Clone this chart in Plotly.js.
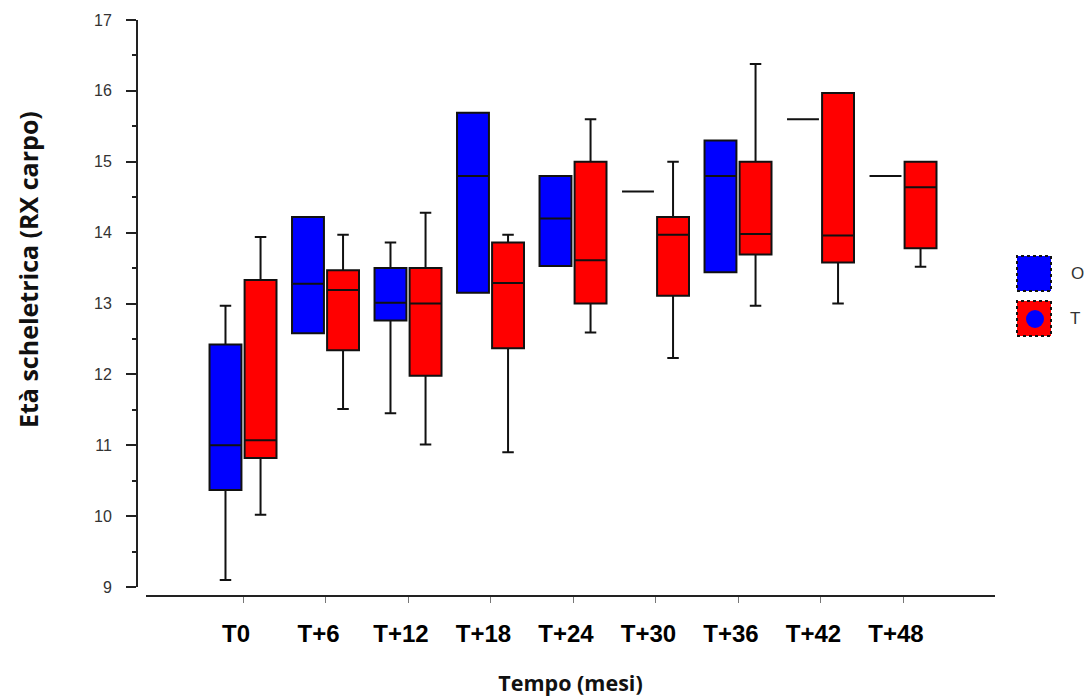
<!DOCTYPE html>
<html>
<head>
<meta charset="utf-8">
<script src="https://cdn.plot.ly/plotly-3.0.1.min.js"></script>
<style>
  html, body { margin: 0; padding: 0; background: #fff; }
  #chart { width: 1085px; height: 697px; }
</style>
</head>
<body>
<div id="chart"></div>
<script>
// Time points (months)
const categories = ['T0', 'T+6', 'T+12', 'T+18', 'T+24', 'T+30', 'T+36', 'T+42', 'T+48'];

// Group O (blue) – box statistics
const oLower  = [9.10, 12.58, 11.45, 13.15, 13.53, 14.58, 13.44, 15.60, 14.80];
const oQ1     = [10.37, 12.58, 12.76, 13.15, 13.53, 14.58, 13.44, 15.60, 14.80];
const oMedian = [11.00, 13.28, 13.01, 14.80, 14.20, 14.58, 14.80, 15.60, 14.80];
const oQ3     = [12.42, 14.22, 13.50, 15.69, 14.80, 14.58, 15.30, 15.60, 14.80];
const oUpper  = [12.97, 14.22, 13.86, 15.69, 14.80, 14.58, 15.30, 15.60, 14.80];

// Group T (red) – box statistics
const tLower  = [10.02, 11.51, 11.01, 10.90, 12.59, 12.23, 12.97, 13.00, 13.52];
const tQ1     = [10.82, 12.34, 11.98, 12.37, 13.00, 13.11, 13.69, 13.58, 13.78];
const tMedian = [11.07, 13.19, 13.00, 13.29, 13.61, 13.97, 13.98, 13.96, 14.64];
const tQ3     = [13.33, 13.47, 13.50, 13.86, 15.00, 14.22, 15.00, 15.97, 15.00];
const tUpper  = [13.94, 13.97, 14.28, 13.97, 15.60, 15.00, 16.38, 15.97, 15.00];

const groupNames = ['O', 'T'];

// Page geometry
const W = 1085, H = 697;
const M = { l: 137, r: 90, t: 20, b: 101 };
const PW = W - M.l - M.r, PH = H - M.t - M.b;
const px = v => (v - M.l) / PW;          // pixel x -> paper x
const py = v => (H - M.b - v) / PH;      // pixel y -> paper y

const boxLine = { color: '#111', width: 2 };

const traces = [
  {
    type: 'box', name: groupNames[0], x: categories,
    lowerfence: oLower, q1: oQ1, median: oMedian, q3: oQ3, upperfence: oUpper,
    fillcolor: 'rgb(0,0,255)', line: boxLine, whiskerwidth: 0.36,
    boxpoints: false, hoverinfo: 'skip'
  },
  {
    type: 'box', name: groupNames[1], x: categories,
    lowerfence: tLower, q1: tQ1, median: tMedian, q3: tQ3, upperfence: tUpper,
    fillcolor: 'rgb(255,0,0)', line: boxLine, whiskerwidth: 0.36,
    boxpoints: false, hoverinfo: 'skip'
  }
];

// Legend keys drawn by hand (square swatches with dotted outlines)
const keyBorder = { color: '#111', width: 2, dash: 'dot' };
const shapes = [
  { type: 'rect', xref: 'paper', yref: 'paper',
    x0: px(1017), x1: px(1051), y0: py(291), y1: py(256),
    fillcolor: 'rgb(0,0,255)', line: keyBorder },
  { type: 'rect', xref: 'paper', yref: 'paper',
    x0: px(1017), x1: px(1051), y0: py(336), y1: py(301),
    fillcolor: 'rgb(255,0,0)', line: keyBorder },
  { type: 'circle', xref: 'paper', yref: 'paper',
    x0: px(1026), x1: px(1044), y0: py(328), y1: py(310),
    fillcolor: 'rgb(0,0,255)', line: { width: 0 } }
];

const annotations = [
  { text: 'Età scheletrica (RX carpo)', textangle: -90,
    xref: 'paper', yref: 'paper', x: px(28), y: py(270),
    xanchor: 'center', yanchor: 'middle', showarrow: false,
    font: { family: 'Open Sans, sans-serif', size: 25, color: '#111', weight: 700 } },
  { text: groupNames[0], xref: 'paper', yref: 'paper', x: px(1069), y: py(273),
    xanchor: 'left', yanchor: 'middle', showarrow: false,
    font: { family: 'Liberation Sans, Arial, sans-serif', size: 17, color: '#333' } },
  { text: groupNames[1], xref: 'paper', yref: 'paper', x: px(1068), y: py(318),
    xanchor: 'left', yanchor: 'middle', showarrow: false,
    font: { family: 'Liberation Sans, Arial, sans-serif', size: 17, color: '#333' } }
];

const layout = {
  width: W, height: H,
  margin: M,
  paper_bgcolor: '#fff', plot_bgcolor: '#fff',
  showlegend: false,
  boxmode: 'group', boxgap: 0.15, boxgroupgap: 0.09,
  xaxis: {
    type: 'category',
    domain: [9 / PW, 1],
    anchor: 'free', position: 0,
    range: [-1.176, 9.115],
    showgrid: false, zeroline: false,
    showline: true, linecolor: '#222', linewidth: 2,
    ticks: 'outside', ticklen: 6, tickcolor: '#777', tickwidth: 1,
    ticklabelstandoff: 10, ticklabelshift: -7,
    tickfont: { family: 'Liberation Sans, Arial, sans-serif', size: 24, color: '#000', weight: 700 },
    title: { text: 'Tempo (mesi)', standoff: 34,
             font: { family: 'Open Sans, sans-serif', size: 21.5, color: '#111', weight: 700 } }
  },
  yaxis: {
    domain: [9 / PH, 1],
    anchor: 'free', position: 0,
    range: [9, 17],
    tickvals: [9, 10, 11, 12, 13, 14, 15, 16, 17],
    showgrid: false, zeroline: false,
    showline: true, linecolor: '#222', linewidth: 2,
    ticks: 'outside', ticklen: 10, tickcolor: '#222', tickwidth: 2,
    ticklabelstandoff: 11,
    tickfont: { family: 'Liberation Sans, Arial, sans-serif', size: 16, color: '#333' },
    minor: { dtick: 0.5, tick0: 9, ticks: 'outside', ticklen: 4, tickcolor: '#222', tickwidth: 2, showgrid: false }
  },
  shapes: shapes,
  annotations: annotations
};

Plotly.newPlot('chart', traces, layout, { staticPlot: true, displayModeBar: false });
</script>
</body>
</html>
